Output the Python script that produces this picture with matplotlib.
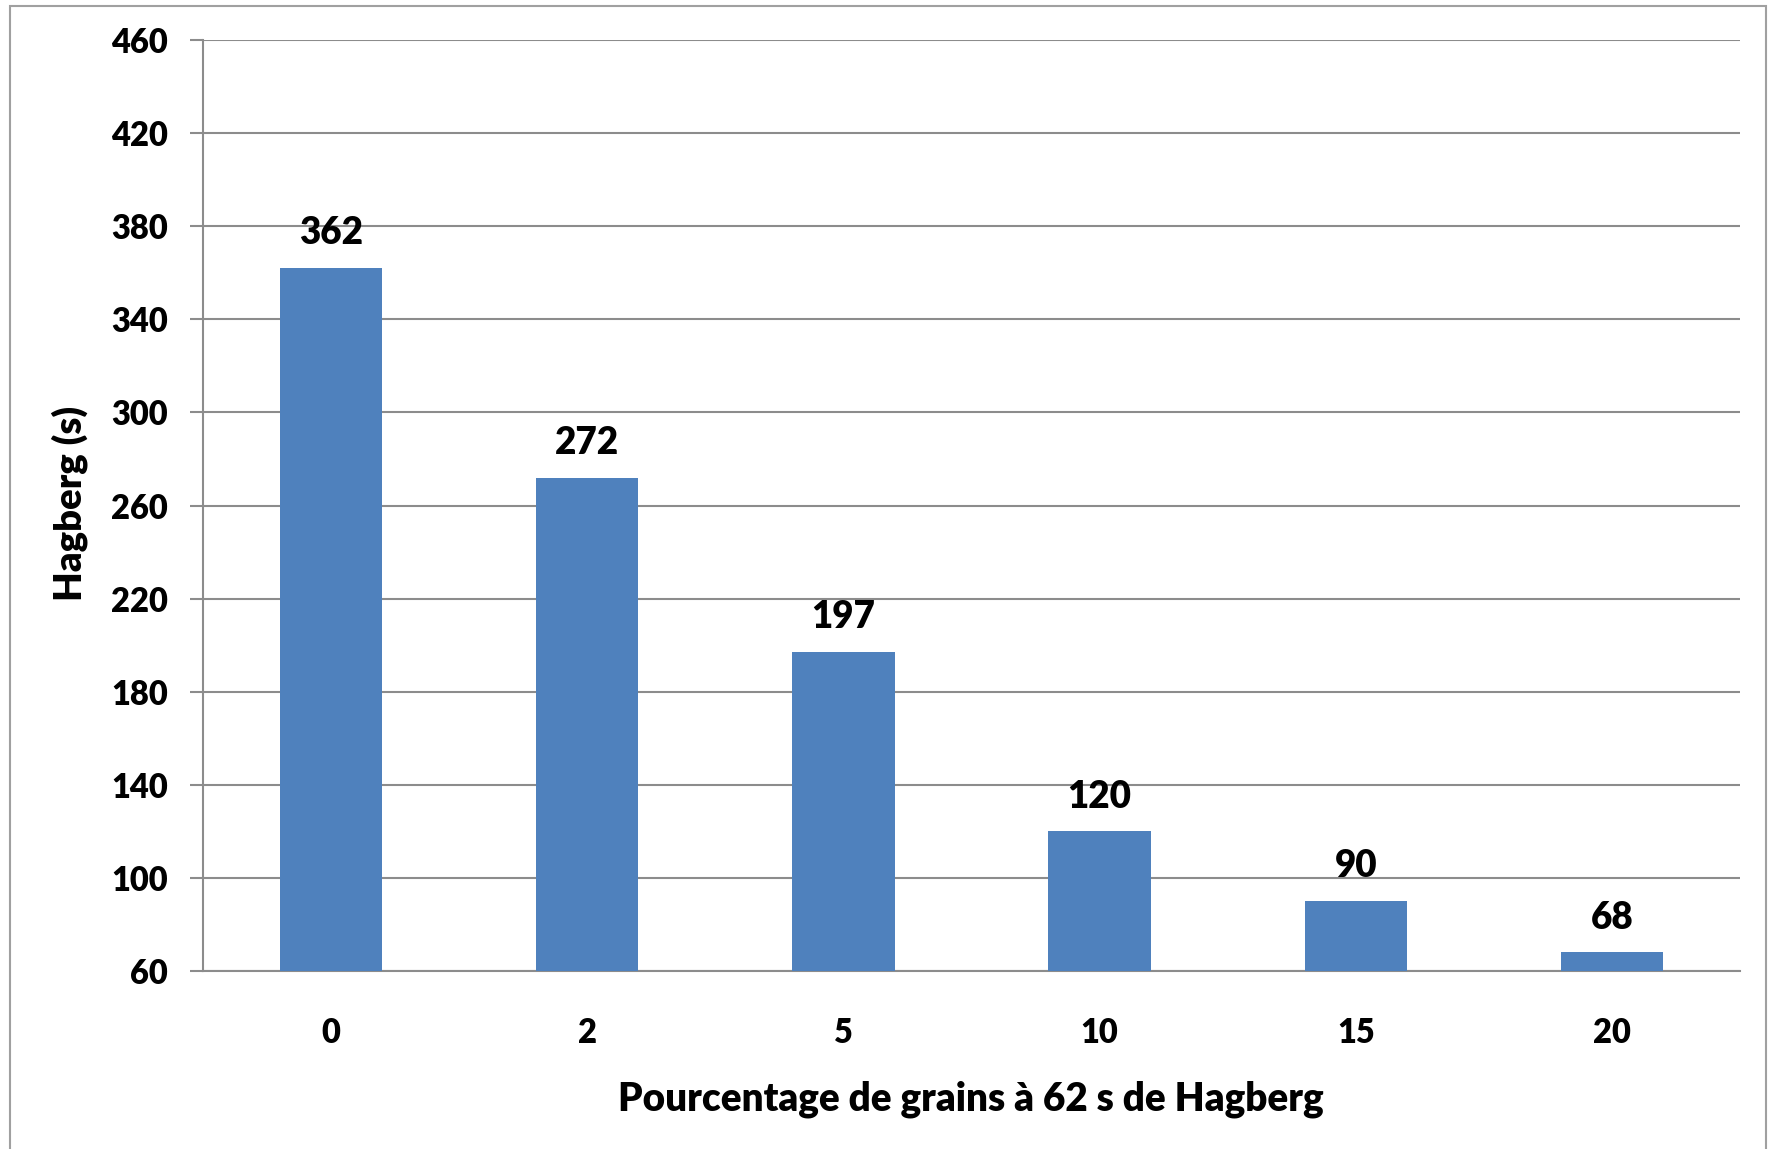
"""
Hagberg falling number versus share of sprouted grains (62 s Hagberg).
Bar chart in the style of an Excel export.
"""

import matplotlib
matplotlib.use('Agg')
import matplotlib.pyplot as plt
from matplotlib.patches import Rectangle

# data
categories = ['0', '2', '5', '10', '15', '20']
hagberg = [362, 272, 197, 120, 90, 68]
yticks = [60, 100, 140, 180, 220, 260, 300, 340, 380, 420, 460]

bar_color = '#4F81BD'
grid_color = '#8C8C8C'
weight = 'heavy'

plt.rcParams['font.family'] = ['Lato', 'DejaVu Sans']

W, H = 1773, 1149
fig = plt.figure(figsize=(W / 100, H / 100), dpi=100)

# axes placement (pixels measured on the reference)
left, right, top, bottom = 203, 1740, 40, 971
ax = fig.add_axes([left / W, 1 - bottom / H, (right - left) / W, (bottom - top) / H])

x = range(len(categories))
ax.bar(x, hagberg, width=0.4, color=bar_color, zorder=3)

ax.set_xlim(-0.5, len(categories) - 0.5)
ax.set_ylim(60, 460)
ax.set_yticks(yticks)
ax.set_xticks(list(x))
ax.set_xticklabels(categories)

ax.grid(axis='y', color=grid_color, linewidth=1.5, zorder=0)
for s in ['top', 'right']:
    ax.spines[s].set_visible(False)
for s in ['left', 'bottom']:
    ax.spines[s].set_color(grid_color)
    ax.spines[s].set_linewidth(1.5)

ax.tick_params(axis='y', length=9.5, width=1.5, color=grid_color, pad=16,
               labelsize=23.5)
ax.tick_params(axis='x', length=0, pad=33, labelsize=23.5)
for lab in ax.get_xticklabels() + ax.get_yticklabels():
    lab.set_fontweight(weight)

# value labels above the bars
for i, v in enumerate(hagberg):
    ax.annotate(str(v), (i, v), xytext=(0, 25), textcoords='offset points',
                ha='center', va='center', fontsize=26.5, fontweight=weight)

fig.text(70 / W, 1 - 503 / H, 'Hagberg (s)', rotation=90, ha='center',
         va='center', fontsize=27.5, fontweight=weight)
fig.text(971 / W, 1 - 1099 / H, 'Pourcentage de grains à 62 s de Hagberg',
         ha='center', va='center', fontsize=27.8, fontweight=weight)

# outer chart frame (bottom edge falls outside the picture)
fig.patches.append(Rectangle((9.5 / W, -0.05), (1766 - 9.5) / W,
                             1.05 - 5.5 / H, transform=fig.transFigure,
                             fill=False, edgecolor='#A0A0A0', linewidth=1.5))

fig.savefig('out.png', dpi=100)
